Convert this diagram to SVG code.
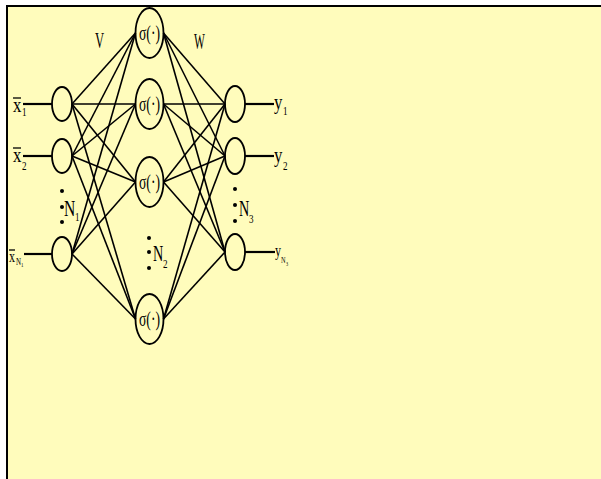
<svg xmlns="http://www.w3.org/2000/svg" width="601" height="479" viewBox="0 0 601 479">
<style>
.bg{fill:#FFFCBC}
.frame{fill:none;stroke:#000;stroke-width:2}
.node{fill:none;stroke:#000;stroke-width:1.8}
.edge{stroke:#000;stroke-width:1.6;fill:none}
.io{stroke:#000;stroke-width:2.2;fill:none}
.bar{stroke:#000;stroke-width:1.3}
text{font-family:"Liberation Serif","Times New Roman",serif;fill:#000}
.sig{font-size:22px;text-anchor:middle}
.lbl{font-size:23px}
.var{font-size:21px}
.sub{font-size:13px}
.dot{fill:#000}
</style>
<rect x="0" y="0" width="601" height="479" fill="#fff"/>
<rect class="bg" x="7" y="6" width="594" height="473"/>
<path class="frame" d="M7,479 V6 H601"/>

<g id="connectors">
  <g id="input-lines">
    <line class="io" x1="23" y1="104" x2="52" y2="104"/>
    <line class="io" x1="23" y1="156" x2="52" y2="156"/>
    <line class="io" x1="24" y1="254" x2="52" y2="254"/>
  </g>
  <g id="v-weights">
    <line class="edge" x1="72" y1="104" x2="135.5" y2="33"/>
    <line class="edge" x1="72" y1="104" x2="135.5" y2="104"/>
    <line class="edge" x1="72" y1="104" x2="135.5" y2="182"/>
    <line class="edge" x1="72" y1="104" x2="135.5" y2="319"/>
    <line class="edge" x1="72" y1="156" x2="135.5" y2="33"/>
    <line class="edge" x1="72" y1="156" x2="135.5" y2="104"/>
    <line class="edge" x1="72" y1="156" x2="135.5" y2="182"/>
    <line class="edge" x1="72" y1="156" x2="135.5" y2="319"/>
    <line class="edge" x1="72" y1="254" x2="135.5" y2="33"/>
    <line class="edge" x1="72" y1="254" x2="135.5" y2="104"/>
    <line class="edge" x1="72" y1="254" x2="135.5" y2="182"/>
    <line class="edge" x1="72" y1="254" x2="135.5" y2="319"/>
  </g>
  <g id="w-weights">
    <line class="edge" x1="163.5" y1="33" x2="225" y2="104"/>
    <line class="edge" x1="163.5" y1="33" x2="225" y2="156"/>
    <line class="edge" x1="163.5" y1="33" x2="225" y2="252"/>
    <line class="edge" x1="163.5" y1="104" x2="225" y2="104"/>
    <line class="edge" x1="163.5" y1="104" x2="225" y2="156"/>
    <line class="edge" x1="163.5" y1="104" x2="225" y2="252"/>
    <line class="edge" x1="163.5" y1="182" x2="225" y2="104"/>
    <line class="edge" x1="163.5" y1="182" x2="225" y2="156"/>
    <line class="edge" x1="163.5" y1="182" x2="225" y2="252"/>
    <line class="edge" x1="163.5" y1="319" x2="225" y2="104"/>
    <line class="edge" x1="163.5" y1="319" x2="225" y2="156"/>
    <line class="edge" x1="163.5" y1="319" x2="225" y2="252"/>
  </g>
  <g id="output-lines">
    <line class="io" x1="245" y1="104" x2="274" y2="104"/>
    <line class="io" x1="245" y1="156" x2="274" y2="156"/>
    <line class="io" x1="245" y1="252" x2="275" y2="252"/>
  </g>
</g>

<g id="input1">
  <ellipse class="node" cx="62" cy="104" rx="10" ry="17"/>
  <line class="bar" x1="13" y1="98" x2="21" y2="98"/>
  <g transform="translate(13,112) scale(0.8,1)"><text class="var">x</text></g>
  <g transform="translate(22,116) scale(0.7,1)"><text class="sub">1</text></g>
</g>
<g id="input2">
  <ellipse class="node" cx="62" cy="156" rx="10" ry="17"/>
  <line class="bar" x1="13" y1="148" x2="21" y2="148"/>
  <g transform="translate(13,162) scale(0.8,1)"><text class="var">x</text></g>
  <g transform="translate(22,170) scale(0.7,1)"><text class="sub">2</text></g>
</g>
<g id="inputN">
  <ellipse class="node" cx="62" cy="254" rx="10" ry="17"/>
  <line class="bar" x1="9" y1="250" x2="15" y2="250"/>
  <g transform="translate(9,262) scale(0.75,1)"><text style="font-size:16px">x</text></g>
  <g transform="translate(16,265) scale(0.7,1)"><text style="font-size:10px">N</text></g>
  <g transform="translate(21,267) scale(0.7,1)"><text style="font-size:7px">1</text></g>
</g>

<g id="hidden1">
  <ellipse class="node" cx="149.5" cy="33" rx="14" ry="25"/>
  <g transform="translate(149.5,40) scale(0.62,1)"><text class="sig">σ(·)</text></g>
</g>
<g id="hidden2">
  <ellipse class="node" cx="149.5" cy="104" rx="14" ry="25"/>
  <g transform="translate(149.5,111) scale(0.62,1)"><text class="sig">σ(·)</text></g>
</g>
<g id="hidden3">
  <ellipse class="node" cx="149.5" cy="182" rx="14" ry="25"/>
  <g transform="translate(149.5,189) scale(0.62,1)"><text class="sig">σ(·)</text></g>
</g>
<g id="hidden4">
  <ellipse class="node" cx="149.5" cy="319" rx="14" ry="25"/>
  <g transform="translate(149.5,326) scale(0.62,1)"><text class="sig">σ(·)</text></g>
</g>

<g id="output1">
  <ellipse class="node" cx="235" cy="104" rx="10" ry="18"/>
  <g transform="translate(274,109) scale(0.8,1)"><text class="var">y</text></g>
  <g transform="translate(283,115) scale(0.7,1)"><text class="sub">1</text></g>
</g>
<g id="output2">
  <ellipse class="node" cx="235" cy="156" rx="10" ry="18"/>
  <g transform="translate(274,162) scale(0.8,1)"><text class="var">y</text></g>
  <g transform="translate(283,170) scale(0.7,1)"><text class="sub">2</text></g>
</g>
<g id="outputN">
  <ellipse class="node" cx="235" cy="252" rx="10" ry="18"/>
  <g transform="translate(275,256) scale(0.75,1)"><text style="font-size:16px">y</text></g>
  <g transform="translate(281,263) scale(0.7,1)"><text style="font-size:9px">N</text></g>
  <g transform="translate(286,266) scale(0.7,1)"><text style="font-size:6px">3</text></g>
</g>

<g id="label-V">
  <g transform="translate(95,48) scale(0.55,1)"><text class="lbl">V</text></g>
</g>
<g id="label-W">
  <g transform="translate(194,49) scale(0.5,1)"><text class="lbl">W</text></g>
</g>

<g id="label-N1">
  <circle class="dot" cx="62" cy="191" r="2"/>
  <circle class="dot" cx="62" cy="207" r="2"/>
  <circle class="dot" cx="62" cy="222" r="2"/>
  <g transform="translate(64,216) scale(0.68,1)"><text class="lbl">N</text></g>
  <g transform="translate(75,221) scale(0.7,1)"><text class="sub">1</text></g>
</g>
<g id="label-N2">
  <circle class="dot" cx="149" cy="238" r="2"/>
  <circle class="dot" cx="149" cy="252" r="2"/>
  <circle class="dot" cx="149" cy="268" r="2"/>
  <g transform="translate(153,261) scale(0.62,1)"><text class="lbl">N</text></g>
  <g transform="translate(163,268) scale(0.7,1)"><text class="sub">2</text></g>
</g>
<g id="label-N3">
  <circle class="dot" cx="235" cy="189" r="2"/>
  <circle class="dot" cx="235" cy="205" r="2"/>
  <circle class="dot" cx="235" cy="221" r="2"/>
  <g transform="translate(239,216) scale(0.62,1)"><text class="lbl">N</text></g>
  <g transform="translate(249,223) scale(0.7,1)"><text class="sub">3</text></g>
</g>
</svg>
